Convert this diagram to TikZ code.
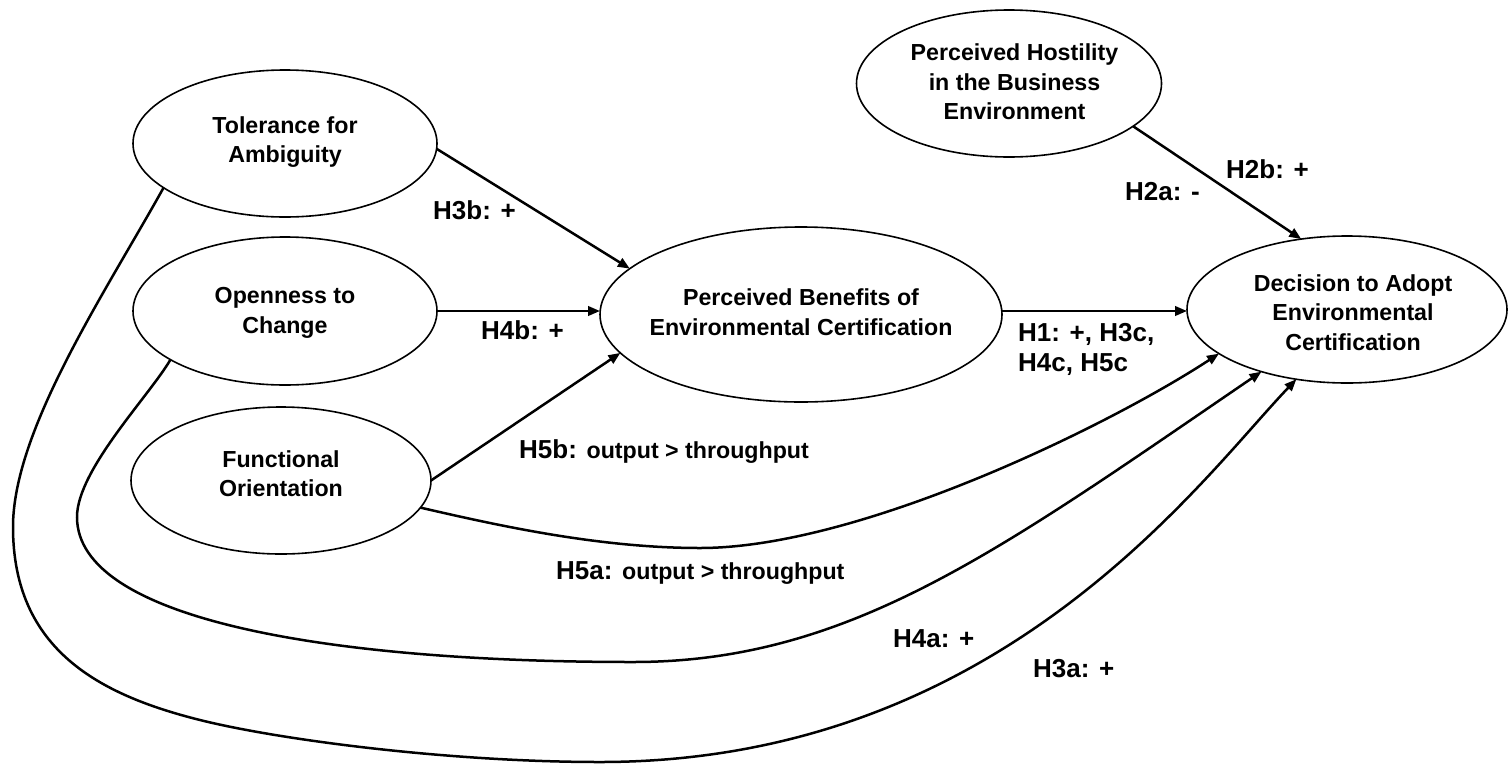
\documentclass[tikz,border=0pt]{standalone}
\usepackage{fontspec}
\setmainfont{Liberation Sans}
\usetikzlibrary{shapes.geometric,arrows.meta,calc}

\tikzset{
  construct/.style={ellipse, draw, line width=1.6pt, inner sep=0pt, outer sep=0pt},
  ctext/.style={align=center, font=\fontsize{23.2}{29.5}\selectfont\bfseries, inner sep=0pt},
  hyp/.style={font=\fontsize{26}{30}\selectfont\bfseries, inner sep=0pt, anchor=base west, align=left},
  link/.style={line width=2.5pt, -{Triangle[length=12pt,width=9.5pt]}},
}
\newcommand{\smalltxt}{\fontsize{23.2}{30}\selectfont}

\begin{document}
\begin{tikzpicture}[x=1pt,y=-1pt]
\useasboundingbox (0,0) rectangle (1509,766);

% constructs
\node[construct, minimum width=304pt, minimum height=147pt] (tol) at (285,143.5) {};
\node[construct, minimum width=304pt, minimum height=148pt] (opn) at (285,311) {};
\node[construct, minimum width=300pt, minimum height=147pt] (fun) at (281,480.5) {};
\node[construct, minimum width=402pt, minimum height=175pt] (pb) at (801,314.5) {};
\node[construct, minimum width=320pt, minimum height=147pt] (dec) at (1347,309.5) {};
\node[construct, minimum width=305pt, minimum height=147pt] (hos) at (1009,83.5) {};

\node[ctext, yshift=1.5pt] (toltext) at (tol) {Tolerance for\\Ambiguity};
\node[ctext, yshift=-2pt] (opntext) at (opn) {Openness to\\Change};
\node[ctext, yshift=7pt] (funtext) at (fun) {Functional\\Orientation};
\node[ctext, yshift=2.5pt] (pbtext) at (pb) {Perceived Benefits of\\Environmental Certification};
\node[ctext, xshift=6pt, yshift=-3pt] (dectext) at (dec) {Decision to Adopt\\Environmental\\Certification};
\node[ctext, xshift=5.5pt, yshift=1.5pt] (hostext) at (hos) {Perceived Hostility\\in the Business\\Environment};

% straight paths
\draw[link] (tol.-2) -- (pb.165);
\draw[link] (opn.east) -- (opn.east -| pb.west);
\draw[link] (fun.0) -- (pb.192);
\draw[link] (opn.east -| pb.east) -- (opn.east -| dec.west);
\draw[link] (hos.-19) -- (dec.123);

% curved direct paths to the decision
\draw[link] (fun.-11) .. controls (500,526) and (600,548) .. (700,548)
  .. controls (860,548) and (1110,425) .. (dec.199);
\draw[link] (opn.203) .. controls (150,395) and (77,470) .. (77,517)
  .. controls (77,620) and (330,662) .. (633,662)
  .. controls (850,662) and (1000,550) .. (dec.216);
\draw[link] (tol.200) .. controls (105,293) and (13,430) .. (13,527)
  .. controls (13,650) and (100,695) .. (200,720)
  .. controls (280,740) and (450,762) .. (600,762)
  .. controls (1000,762) and (1200,480) .. (dec.234);

% hypothesis labels
\node[hyp] (h3b) at (433,219) {H3b: +};
\node[hyp] (h4b) at (481,339) {H4b: +};
\node[hyp] (h5b) at (519,458) {H5b: {\smalltxt output > throughput}};
\node[hyp] (h5a) at (556,579) {H5a: {\smalltxt output > throughput}};
\node[hyp] (h1) at (1018,371) {H1: +, H3c,\\H4c, H5c};
\node[hyp] (h2a) at (1125,200) {H2a: -};
\node[hyp] (h2b) at (1226,178) {H2b: +};
\node[hyp] (h4a) at (893,647) {H4a: +};
\node[hyp] (h3a) at (1033,677) {H3a: +};
\end{tikzpicture}
\end{document}
